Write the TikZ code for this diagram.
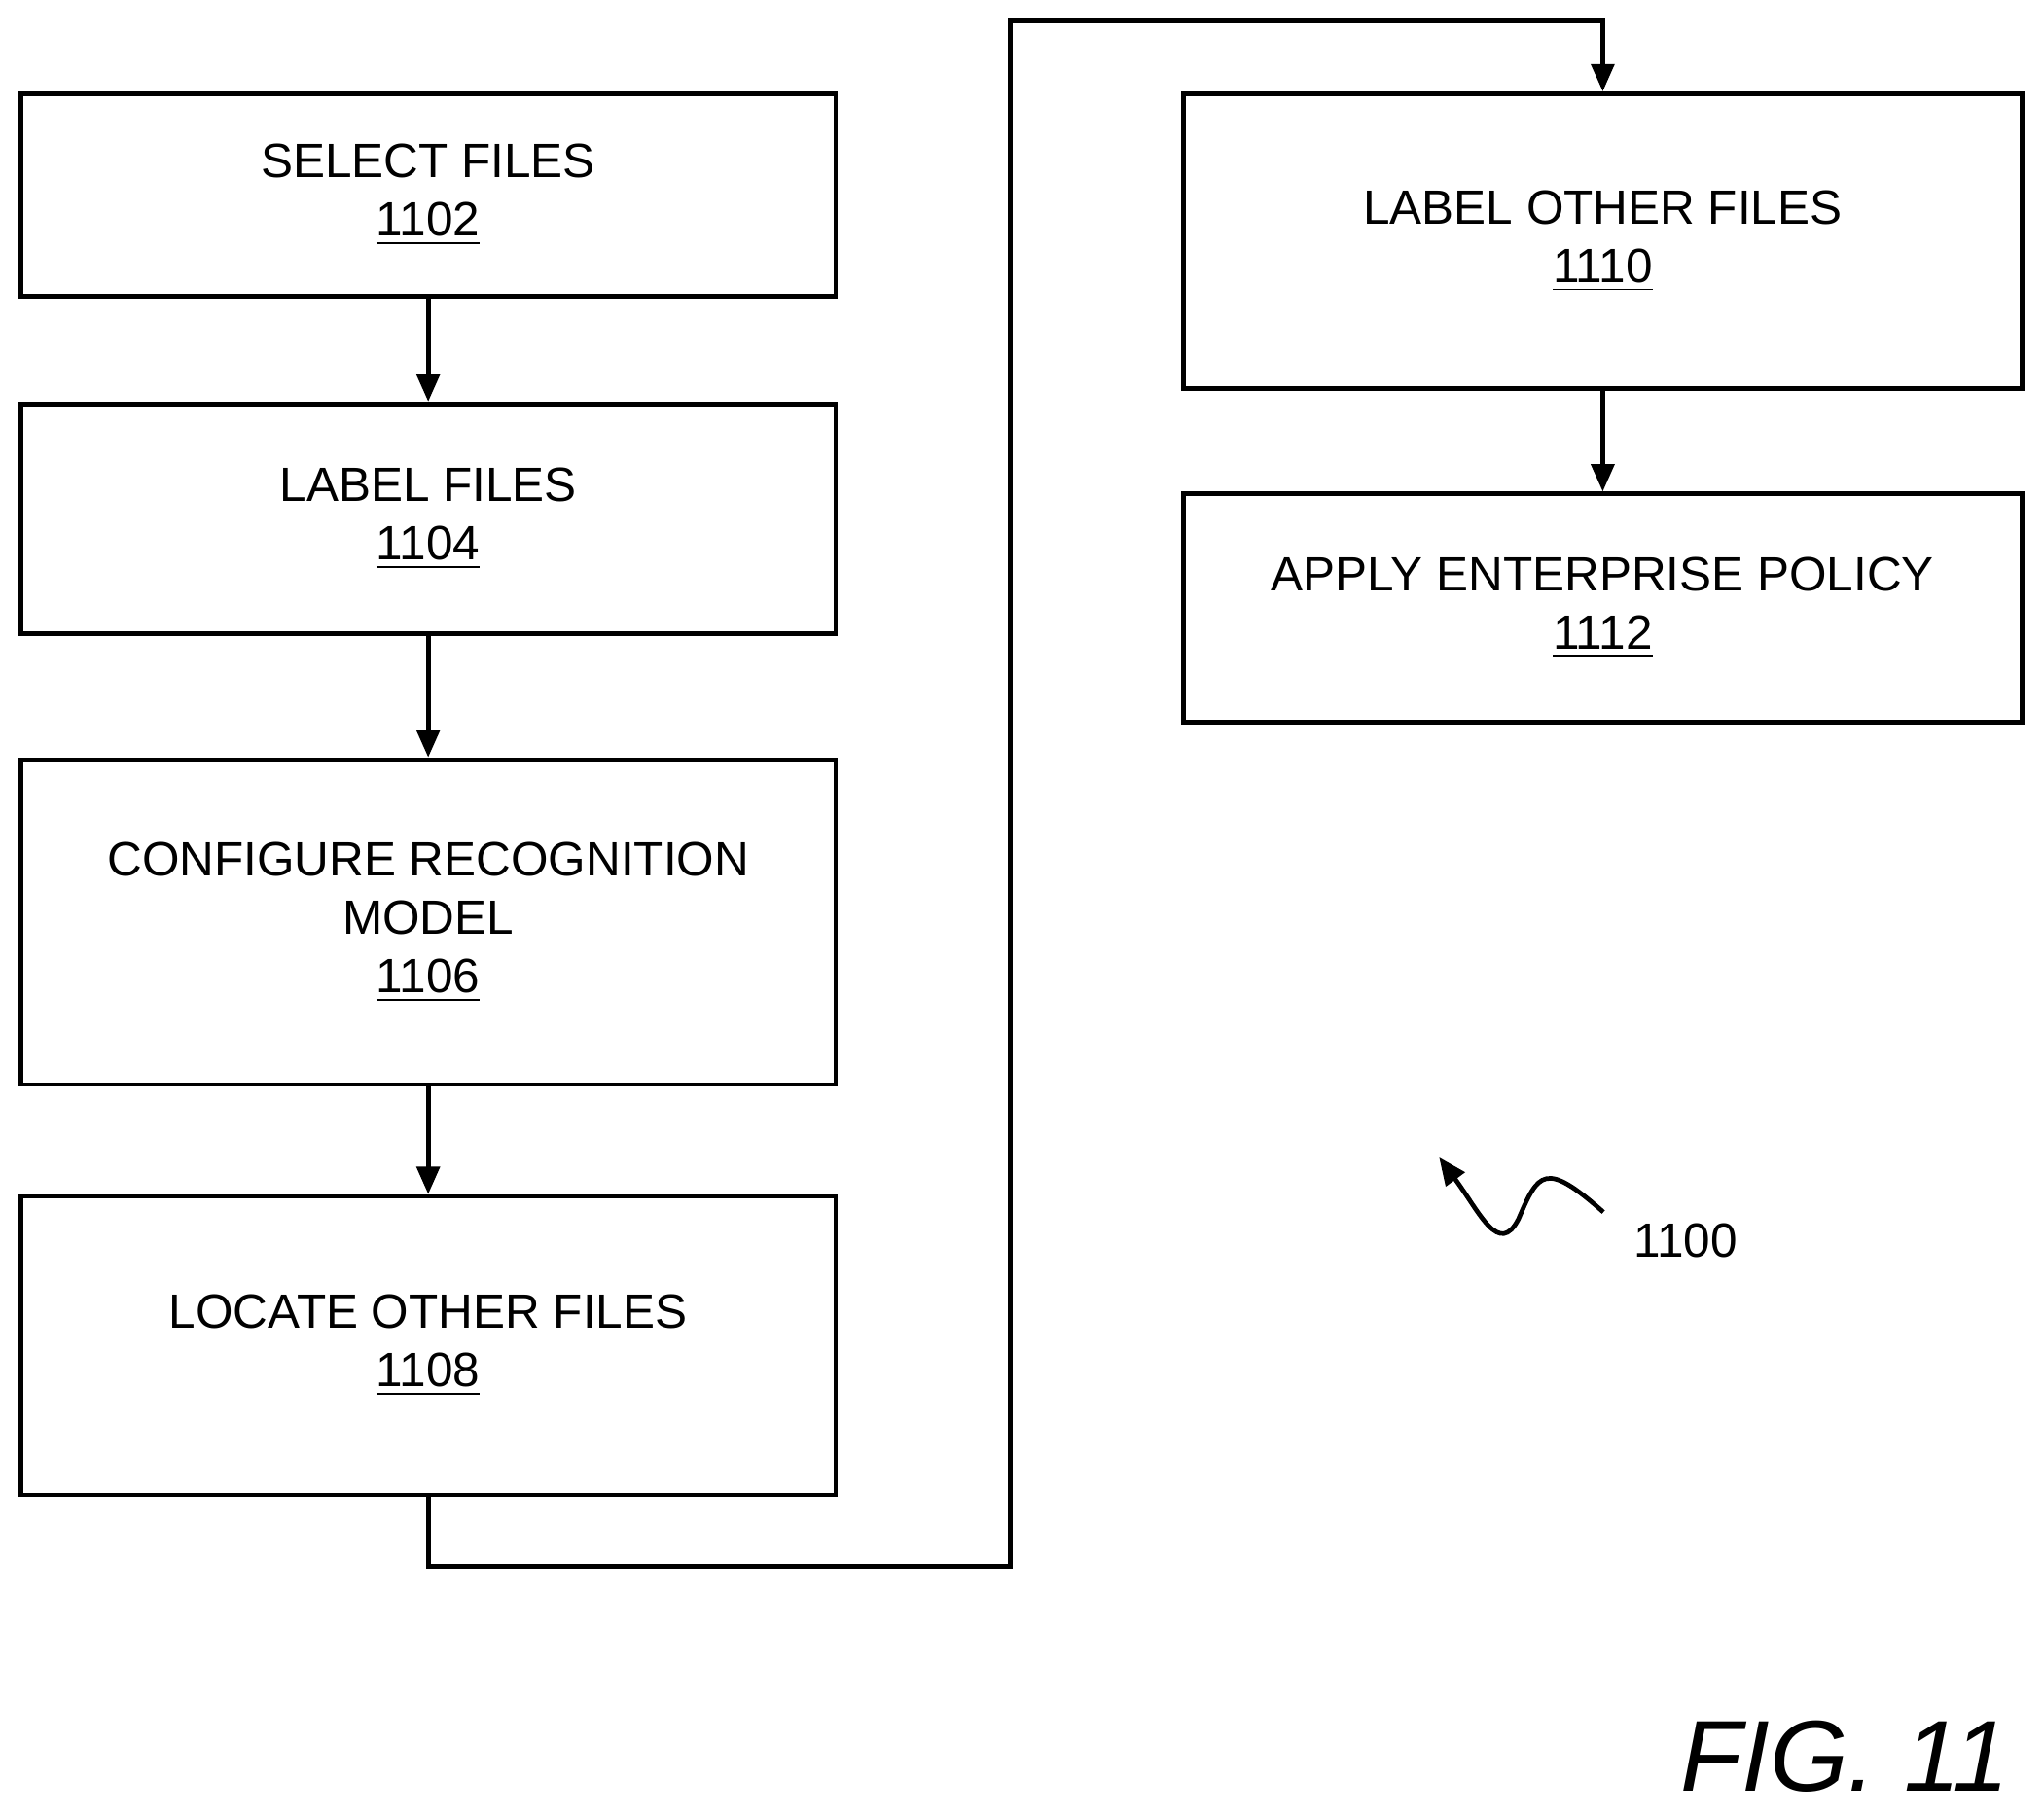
\documentclass[tikz,border=0pt]{standalone}
\usepackage{fontspec}
\setmainfont{Liberation Sans}
\usetikzlibrary{arrows.meta}
\newcommand{\stepnum}[1]{\underline{#1}}
\tikzset{
	stepbox/.style={draw, line width=1pt, minimum width=6.25cm, align=center,
		font=\fontsize{10.5}{12.8}\selectfont, inner sep=0pt},
	flow/.style={line width=1pt, -{Triangle[length=6pt, width=5pt]}}
}
\begin{document}
\begin{tikzpicture}[x=0.01cm, y=-0.01cm]
		\useasboundingbox (0, 0) rectangle (1568, 1393);
		\node[stepbox, minimum height=1.55cm] (select) at (328.5, 149.5)
			{SELECT FILES\\\stepnum{1102}};
		\node[stepbox, minimum height=1.76cm] (label) at (328.5, 398)
			{LABEL FILES\\\stepnum{1104}};
		\node[stepbox, minimum height=2.49cm] (config) at (328.5, 707.5)
			{CONFIGURE RECOGNITION\\MODEL\\\stepnum{1106}};
		\node[stepbox, minimum height=2.29cm] (locate) at (328.5, 1032.5)
			{LOCATE OTHER FILES\\\stepnum{1108}};
		\node[stepbox, minimum width=6.43cm, minimum height=2.26cm] (other) at (1229.5, 185)
			{LABEL OTHER FILES\\\stepnum{1110}};
		\node[stepbox, minimum width=6.43cm, minimum height=1.75cm] (policy) at (1229.5, 466.5)
			{APPLY ENTERPRISE POLICY\\\stepnum{1112}};
		\coordinate (low) at (775, 1202);
		\coordinate (high) at (775, 16);
		\draw[flow] (select) -- (label);
		\draw[flow] (label) -- (config);
		\draw[flow] (config) -- (locate);
		\draw[flow] (locate.south) -- (locate.south |- low) -- (low) -- (high)
			-- (high -| other.north) -- (other.north);
		\draw[flow] (other) -- (policy);
		% reference numeral
		\node[font=\fontsize{10.5}{13}\selectfont] (ref) at (1293, 952) {1100};
		\draw[flow] (1230, 930) .. controls (1185, 890) and (1180, 900) .. (1165, 935)
			.. controls (1150, 965) and (1135, 930) .. (1104, 888);
		\node[font=\fontsize{22}{26}\selectfont\itshape] (fig) at (1415, 1348) {FIG. 11};
	\end{tikzpicture}
\end{document}
